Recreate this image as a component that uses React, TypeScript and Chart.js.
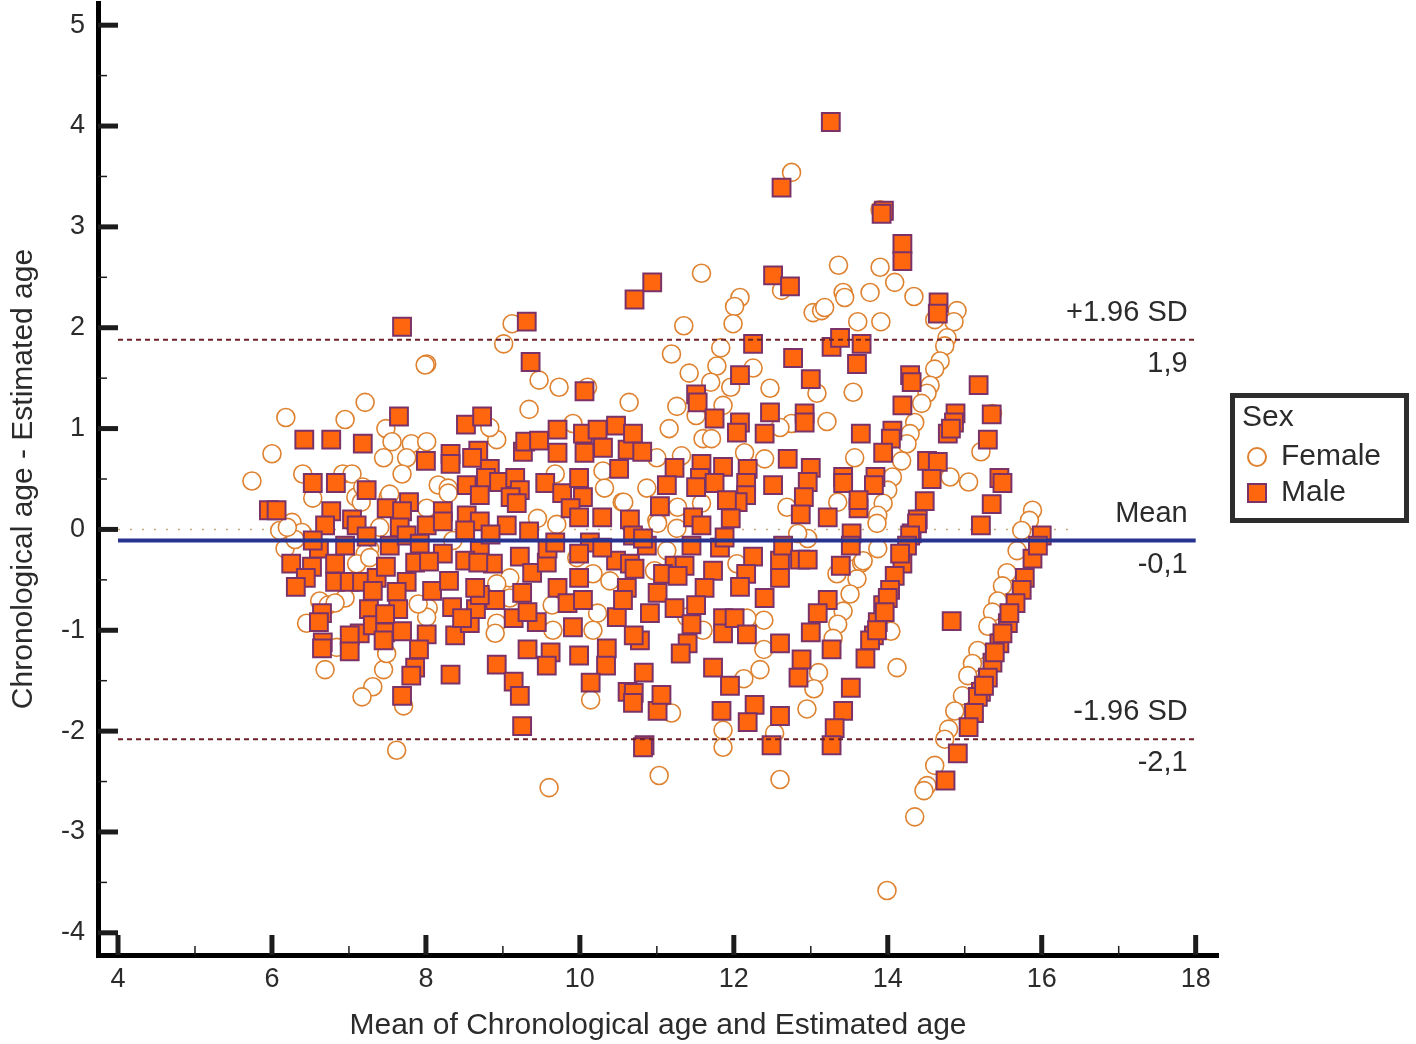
import React, { useEffect, useRef } from "react";
import { Chart, registerables } from "chart.js";

Chart.register(...registerables);

const femalePoints: number[][] = [
[12.75,3.54],[13.90,3.17],[13.36,2.62],[11.58,2.54],[13.90,2.60],[14.09,2.45],[13.42,2.35],[13.44,2.30],[13.77,2.35],[14.34,2.31],
[12.08,2.30],[12.01,2.21],[12.62,2.37],[13.03,2.15],[13.14,2.17],[13.18,2.20],[13.61,2.06],[13.91,2.06],[11.35,2.02],[11.99,2.04],
[9.12,2.04],[9.01,1.84],[8.01,1.64],[7.99,1.63],[14.90,2.17],[14.86,2.06],[14.61,2.08],[11.19,1.74],[11.83,1.80],[11.78,1.62],
[12.25,1.60],[11.42,1.55],[11.70,1.46],[11.96,1.41],[12.47,1.40],[13.08,1.35],[13.55,1.36],[9.47,1.48],[9.73,1.41],[10.10,1.41],
[9.34,1.19],[10.64,1.26],[7.21,1.26],[6.95,1.09],[6.18,1.11],[11.26,1.22],[11.51,1.13],[11.86,1.23],[11.16,1.00],[12.75,1.05],
[13.21,1.07],[15.36,1.15],[7.48,1.00],[7.56,0.87],[7.81,0.85],[8.01,0.87],[7.45,0.71],[7.75,0.71],[7.69,0.55],[6.00,0.75],
[5.74,0.48],[6.40,0.55],[6.92,0.55],[7.04,0.55],[8.92,0.89],[8.83,1.01],[6.53,0.31],[7.09,0.32],[7.18,0.42],[7.51,0.32],
[8.16,0.44],[8.29,0.41],[8.01,0.21],[6.26,0.07],[7.40,0.02],[6.39,-0.03],[6.10,-0.01],[6.17,-0.19],[7.27,-0.19],[7.21,-0.24],
[9.45,0.11],[9.68,0.55],[9.91,1.05],[10.30,0.58],[10.32,0.41],[10.55,0.27],[9.96,-0.28],[10.17,-0.44],[10.39,-0.51],[9.64,-0.75],
[9.09,-0.48],[8.92,-0.54],[8.35,-0.11],[7.10,-0.34],[6.62,-0.71],[8.03,-0.78],[10.23,-0.83],[10.17,-1.00],[9.65,-1.00],[8.92,-0.93],
[8.90,-1.03],[8.01,-0.87],[6.69,-1.39],[7.45,-1.39],[7.31,-1.56],[7.17,-1.66],[7.71,-1.75],[10.14,-1.69],[7.62,-2.19],[9.60,-2.56],
[6.45,-0.93],[6.73,-0.75],[7.49,-1.23],[6.84,-1.17],[9.09,-0.68],[11.60,0.90],[11.71,0.90],[12.14,0.76],[12.40,0.70],[12.60,1.01],
[13.57,0.71],[14.81,0.52],[15.05,0.47],[15.21,0.77],[11.00,0.71],[11.32,0.73],[10.87,0.41],[10.57,0.27],[11.27,0.22],[11.58,0.26],
[11.00,0.09],[11.26,0.01],[12.69,0.22],[13.35,0.27],[12.96,-0.09],[12.83,-0.04],[11.13,-0.21],[11.01,0.06],[10.97,-0.41],[12.04,-0.34],
[11.60,-1.00],[11.39,-0.87],[13.34,-0.44],[13.57,-0.39],[13.66,-0.33],
[14.77,1.90],[14.74,1.82],[14.68,1.67],[14.61,1.59],[14.55,1.43],[14.51,1.35],[14.44,1.25],[14.35,1.06],[14.29,0.95],[14.25,0.85],
[14.18,0.68],[14.06,0.52],[14.00,0.39],[13.94,0.26],[13.87,0.14],[13.86,0.06],[13.87,-0.19],[13.68,-0.31],[13.60,-0.49],[13.51,-0.64],
[13.42,-0.81],[13.35,-0.94],[13.29,-1.08],[12.39,-0.90],[12.17,-0.88],[12.39,-1.19],[12.34,-1.39],[12.13,-1.48],[11.86,-1.99],[11.86,-2.16],
[11.03,-2.44],[11.19,-1.82],[12.60,-2.48],[12.53,-2.02],[12.95,-1.78],[13.10,-1.42],[13.04,-1.58],[14.12,-1.37],[14.04,-1.01],
[15.88,0.19],[15.84,0.09],[15.74,-0.01],[15.68,-0.21],[15.55,-0.43],[15.49,-0.56],[15.43,-0.71],[15.36,-0.82],[15.30,-0.96],[15.17,-1.20],
[15.10,-1.33],[15.04,-1.45],[14.97,-1.65],[14.87,-1.80],[14.79,-1.98],[14.74,-2.08],[14.61,-2.34],[14.51,-2.54],[14.47,-2.59],[14.35,-2.85],[13.99,-3.58],
[7.90,-0.74],[6.95,-0.68],[6.82,-0.73],[7.27,-0.28],[7.16,0.27],[7.53,0.35],[8.29,0.36],[6.30,-0.10],[6.20,0.02],[9.70,0.05],
];

const malePoints: number[][] = [
[13.26,4.04],[12.62,3.39],[13.95,3.16],[13.92,3.13],[14.19,2.83],[14.19,2.66],[12.51,2.52],[12.73,2.41],[10.71,2.28],[10.94,2.45],
[14.66,2.25],[14.65,2.14],[9.31,2.06],[7.69,2.01],[9.36,1.66],[12.25,1.84],[12.77,1.70],[13.27,1.81],[13.38,1.90],[13.66,1.84],
[13.60,1.64],[13.00,1.49],[12.08,1.53],[10.06,1.37],[14.29,1.53],[14.31,1.46],[15.18,1.43],[14.19,1.23],[11.51,1.34],[11.53,1.26],
[12.47,1.16],[12.92,1.15],[12.92,1.06],[11.75,1.10],[7.65,1.12],[14.88,1.15],[14.86,1.06],[14.78,0.95],[14.82,1.00],[15.35,1.14],
[6.42,0.89],[6.77,0.89],[7.18,0.85],[8.00,0.68],[8.32,0.75],[8.32,0.65],[8.68,0.78],[8.60,0.71],[8.83,0.60],[8.52,1.04],
[8.73,1.12],[9.26,0.77],[9.29,0.87],[9.47,0.88],[9.71,0.99],[9.71,0.76],[10.04,0.95],[10.06,0.76],[10.23,0.99],[10.30,0.81],
[10.47,1.03],[10.62,0.79],[10.69,0.95],[10.51,0.60],[10.81,0.77],[6.53,0.46],[6.83,0.46],[7.23,0.39],[8.53,0.44],[8.78,0.51],
[8.95,0.47],[9.16,0.51],[9.22,0.39],[9.10,0.32],[9.18,0.26],[8.70,0.34],[9.55,0.46],[9.77,0.36],[9.99,0.51],[10.04,0.32],
[9.88,0.21],[9.99,0.12],[10.29,0.12],[5.96,0.19],[6.06,0.19],[6.77,0.18],[6.69,0.04],[7.04,0.10],[7.10,0.04],[7.49,0.21],
[7.78,0.27],[7.69,0.18],[7.66,0.02],[8.01,0.04],[8.22,0.18],[8.22,0.08],[8.53,0.14],[8.70,0.08],[8.51,-0.01],[9.05,0.04],
[9.34,-0.02],[10.13,-0.13],[6.25,-0.34],[6.52,-0.37],[6.44,-0.48],[6.31,-0.57],[6.61,-0.19],[6.82,-0.34],[6.82,-0.52],[7.01,-0.52],
[7.17,-0.52],[7.36,-0.48],[7.48,-0.37],[7.53,-0.16],[7.31,-0.61],[7.86,-0.33],[8.22,-0.24],[8.04,-0.32],[7.75,-0.52],[8.08,-0.61],
[8.30,-0.51],[8.70,-0.21],[8.51,-0.31],[8.87,-0.34],[8.68,-0.33],[9.22,-0.27],[9.38,-0.43],[9.57,-0.33],[9.58,-0.19],[9.99,-0.24],
[9.99,-0.48],[10.47,-0.31],[10.29,-0.18],[7.26,-0.79],[7.62,-0.62],[7.64,-0.79],[6.65,-0.83],[6.61,-0.92],[6.66,-1.12],[6.65,-1.18],
[7.14,-1.03],[7.01,-1.05],[7.01,-1.21],[7.31,-0.95],[7.47,-1.02],[7.45,-1.10],[7.69,-1.01],[8.01,-1.04],[7.91,-1.19],[7.86,-1.37],
[7.81,-1.45],[7.69,-1.65],[8.32,-1.44],[8.92,-1.34],[9.14,-1.51],[9.22,-1.65],[9.25,-1.95],[8.38,-1.05],[8.34,-0.77],[8.57,-0.93],
[8.65,-0.79],[8.90,-0.70],[8.70,-0.65],[8.64,-0.58],[9.14,-0.88],[9.25,-0.63],[9.44,-0.92],[9.71,-0.58],[9.84,-0.73],[10.04,-0.70],
[9.91,-0.97],[9.32,-1.19],[9.62,-1.22],[9.57,-1.35],[9.99,-1.25],[10.35,-1.18],[10.34,-1.35],[10.14,-1.52],[10.48,-0.87],[10.62,-1.61],
[10.65,-0.34],[10.71,-0.39],[10.61,-0.58],[10.87,-0.16],[11.23,-0.36],[11.36,-0.36],[11.08,-0.44],[11.27,-0.46],[11.45,-0.16],[11.73,-0.41],
[11.62,-0.58],[11.51,-0.75],[11.82,-0.18],[12.25,-0.27],[12.16,-0.44],[12.08,-0.57],[12.60,-0.31],[12.60,-0.48],[12.64,-0.16],[12.86,-0.30],
[12.96,-0.30],[13.53,-0.04],[13.52,-0.16],[13.39,-0.36],[12.40,-0.68],[13.22,-0.70],[13.09,-0.83],[13.00,-1.02],[13.27,-1.19],[11.01,-0.63],
[10.91,-0.83],[11.23,-0.78],[11.45,-0.94],[11.40,-1.13],[11.31,-1.23],[11.86,-0.88],[11.86,-1.03],[12.01,-0.88],[12.17,-1.04],[12.60,-1.13],
[11.73,-1.37],[11.95,-1.55],[12.27,-1.74],[12.18,-1.91],[11.84,-1.80],[12.60,-1.85],[12.88,-1.29],[12.84,-1.47],[13.52,-1.57],[13.42,-1.80],
[13.31,-1.97],[13.27,-2.14],[12.49,-2.14],[10.84,-2.14],[10.82,-2.16],[11.01,-1.80],[11.06,-1.64],[10.70,-1.62],[10.69,-1.72],[10.83,-1.42],
[10.78,-1.10],[10.70,-1.05],[11.23,0.61],[11.13,0.44],[11.04,0.23],[10.65,0.10],[11.58,0.65],[11.56,0.51],[11.51,0.42],[11.86,0.62],
[11.75,0.46],[12.18,0.60],[12.16,0.46],[12.16,0.34],[12.51,0.44],[12.05,0.27],[11.96,0.11],[11.47,0.12],[11.58,0.04],[11.88,-0.08],
[12.70,0.70],[13.00,0.61],[12.96,0.47],[12.91,0.32],[12.87,0.15],[13.42,0.52],[13.42,0.46],[13.84,0.52],[13.82,0.44],[13.62,0.21],
[13.62,0.29],[13.22,0.12],[12.40,0.95],[12.08,1.06],[12.04,0.96],[13.65,0.95],[14.06,0.98],[14.04,0.90],[13.94,0.76],[15.30,0.89],
[14.51,0.68],[14.65,0.67],[14.57,0.50],[15.45,0.51],[15.49,0.46],[15.35,0.25],[15.21,0.04],[14.48,0.28],[14.39,0.10],[14.31,-0.04],
[14.38,0.06],[14.29,-0.06],[14.25,-0.16],[14.19,-0.34],[14.09,-0.46],[14.03,-0.60],[13.94,-0.75],[13.87,-0.92],[13.82,-1.05],[13.77,-1.10],
[13.71,-1.28],[14.16,-0.24],[14.00,-0.68],[13.86,-1.00],[13.96,-0.82],
[16.00,-0.06],[15.88,-0.29],[15.78,-0.48],[15.74,-0.60],[15.66,-0.73],[15.56,-0.93],[15.58,-0.83],[15.45,-1.13],[15.36,-1.32],[15.30,-1.47],
[15.21,-1.61],[15.17,-1.66],[15.12,-1.82],[15.05,-1.96],[14.91,-2.22],[14.75,-2.49],[14.83,-0.91],[15.95,-0.16],[15.49,-1.03],[15.39,-1.22],[15.25,-1.55],
[7.75,-0.06],[6.53,-0.11],[6.95,-0.16],[7.92,-0.14],[7.47,-0.84],[8.47,-0.88],[9.68,-0.13],[10.69,-0.06],[10.56,-0.70],[9.32,-0.82],[11.91,0.29],[10.82,-0.09],[8.84,-0.05],[7.23,-0.07],
];

const meanValue = -0.11;
const upperLimit = 1.88;
const lowerLimit = -2.08;
const lineStart = 4;
const lineEnd = 18;
const zeroLineEnd = 16.35;
const refLabels: { text: string; value: number; above: boolean }[] = [
  { text: "+1.96 SD", value: upperLimit, above: true },
  { text: "1,9", value: upperLimit, above: false },
  { text: "Mean", value: meanValue, above: true },
  { text: "-0,1", value: meanValue, above: false },
  { text: "-1.96 SD", value: lowerLimit, above: true },
  { text: "-2,1", value: lowerLimit, above: false },
];

const FONT = "'Liberation Sans', Arial, sans-serif";
const TEXT = "#2b2b2b";
const FEMALE = "#DE8230";
const MALE_FILL = "#FF660D";
const MALE_EDGE = "#7A3268";

function circleIcon(): HTMLCanvasElement {
  const c = document.createElement("canvas");
  c.width = 24;
  c.height = 24;
  const g = c.getContext("2d")!;
  g.strokeStyle = FEMALE;
  g.lineWidth = 2;
  g.beginPath();
  g.arc(12, 12, 9, 0, Math.PI * 2);
  g.stroke();
  return c;
}

const axisPlugin = {
  id: "axisMarks",
  beforeDraw(chart: any) {
    const lg = chart.legend;
    if (lg) {
      lg.left = 1242;
      lg.right = 1409;
      lg.top = 393;
      lg.bottom = 580;
      lg.width = 167;
      lg.height = 187;
    }
  },
  afterDatasetsDraw(chart: any) {
    const { ctx, scales } = chart;
    const x = scales.x;
    const y = scales.y;
    ctx.save();
    ctx.strokeStyle = "#1c1c1c";
    ctx.lineCap = "butt";
    for (const t of x.ticks) {
      const major = Math.abs(t.value % 2) < 1e-6;
      const px = x.getPixelForValue(t.value);
      ctx.lineWidth = major ? 5 : 1.5;
      ctx.beginPath();
      ctx.moveTo(px, x.top);
      ctx.lineTo(px, x.top - (major ? 20 : 9));
      ctx.stroke();
    }
    for (const t of y.ticks) {
      const major = Math.abs(t.value % 1) < 1e-6;
      const py = y.getPixelForValue(t.value);
      ctx.lineWidth = major ? 5 : 1.5;
      ctx.beginPath();
      ctx.moveTo(y.right, py);
      ctx.lineTo(y.right + (major ? 20 : 9), py);
      ctx.stroke();
    }
    ctx.fillStyle = TEXT;
    ctx.font = `29px ${FONT}`;
    ctx.textAlign = "right";
    ctx.textBaseline = "middle";
    const tx = x.getPixelForValue(lineEnd) - 8;
    for (const r of refLabels) {
      const py = y.getPixelForValue(r.value);
      ctx.fillText(r.text, tx, py + (r.above ? -27 : 24));
    }
    ctx.restore();
  },
  afterDraw(chart: any) {
    const { ctx } = chart;
    ctx.save();
    ctx.strokeStyle = "#2d2d2d";
    ctx.lineWidth = 5;
    ctx.strokeRect(1232.5, 395.5, 174, 125);
    ctx.restore();
  },
};

function clearScalePadding(s: any) {
  s.paddingTop = 0;
  s.paddingBottom = 0;
  s.paddingLeft = 0;
  s.paddingRight = 0;
}

export default function App() {
  const ref = useRef<HTMLCanvasElement>(null);
  useEffect(() => {
    const icon = circleIcon();
    const chart = new Chart(ref.current!, {
      type: "scatter",
      data: {
        datasets: [
          {
            label: "Female",
            data: femalePoints.map(([x, y]) => ({ x, y })),
            pointStyle: "circle",
            pointRadius: 9,
            pointBorderWidth: 1.6,
            pointBorderColor: FEMALE,
            pointBackgroundColor: "#ffffff",
            order: 3,
          },
          {
            label: "Male",
            data: malePoints.map(([x, y]) => ({ x, y })),
            pointStyle: "rect",
            pointRadius: 12.6,
            pointBorderWidth: 2,
            pointBorderColor: MALE_EDGE,
            pointBackgroundColor: MALE_FILL,
            order: 2,
          },
          {
            label: "Mean",
            data: [{ x: lineStart, y: meanValue }, { x: lineEnd, y: meanValue }],
            showLine: true,
            pointRadius: 0,
            borderColor: "#27338F",
            borderWidth: 4,
            order: 0,
          },
          {
            label: "+1.96 SD",
            data: [{ x: lineStart, y: upperLimit }, { x: lineEnd, y: upperLimit }],
            showLine: true,
            pointRadius: 0,
            borderColor: "#6E2028",
            borderWidth: 2,
            borderDash: [5, 4],
            order: 1,
          },
          {
            label: "-1.96 SD",
            data: [{ x: lineStart, y: lowerLimit }, { x: lineEnd, y: lowerLimit }],
            showLine: true,
            pointRadius: 0,
            borderColor: "#6E2028",
            borderWidth: 2,
            borderDash: [5, 4],
            order: 1,
          },
          {
            label: "Zero",
            data: [{ x: lineStart, y: 0 }, { x: zeroLineEnd, y: 0 }],
            showLine: true,
            pointRadius: 0,
            borderColor: "#C9A67E",
            borderWidth: 1.5,
            borderDash: [2, 10],
            order: 4,
          },
        ],
      },
      options: {
        responsive: false,
        animation: false,
        layout: { autoPadding: false, padding: { top: 3, right: 198, left: 0, bottom: 0 } },
        plugins: {
          tooltip: { enabled: false },
          legend: {
            position: "chartArea" as any,
            align: "start",
            title: {
              display: true,
              text: "Sex",
              color: TEXT,
              font: { family: FONT, size: 30, lineHeight: 1 },
              padding: { top: 10, bottom: 3, left: 0, right: 0 },
              position: "start",
            } as any,
            labels: {
              usePointStyle: true,
              boxHeight: 18,
              boxWidth: 18,
              padding: 6,
              color: TEXT,
              font: { family: FONT, size: 30 },
              filter: (item: any) => item.text === "Female" || item.text === "Male",
              sort: (a: any, b: any) => a.datasetIndex - b.datasetIndex,
              generateLabels: (c: any) =>
                Chart.defaults.plugins.legend.labels.generateLabels(c).map((it: any) =>
                  it.text === "Female" ? { ...it, pointStyle: icon } : it
                ),
            },
          },
        },
        scales: {
          x: {
            type: "linear",
            min: 3.74,
            max: 18.29,
            afterFit: (s: any) => {
              s.height = 89;
              clearScalePadding(s);
            },
            grid: { display: false },
            border: { display: true, color: "#000", width: 5 },
            ticks: {
              stepSize: 1,
              includeBounds: false,
              autoSkip: false,
              maxRotation: 0,
              padding: 0,
              color: TEXT,
              font: { family: FONT, size: 27 },
              callback: (v: any) => (Math.abs(Number(v) % 2) < 1e-6 ? String(v) : ""),
            },
            title: {
              display: true,
              text: "Mean of Chronological age and Estimated age",
              color: TEXT,
              font: { family: FONT, size: 30 },
              padding: { top: 0, bottom: 0 },
            },
          },
          y: {
            type: "linear",
            min: -4.22,
            max: 5.22,
            afterFit: (s: any) => {
              s.width = 98;
              clearScalePadding(s);
            },
            grid: { display: false },
            border: { display: true, color: "#000", width: 5 },
            ticks: {
              stepSize: 0.5,
              includeBounds: false,
              autoSkip: false,
              padding: 5,
              color: TEXT,
              font: { family: FONT, size: 27 },
              callback: (v: any) => (Math.abs(Number(v) % 1) < 1e-6 ? String(v) : ""),
            },
            title: {
              display: true,
              text: "Chronological age - Estimated age",
              color: TEXT,
              font: { family: FONT, size: 30 },
              padding: { top: 6, bottom: 0 },
            },
          },
        },
      } as any,
      plugins: [axisPlugin],
    });
    return () => chart.destroy();
  }, []);
  return (
    <div style={{ position: "absolute", left: 0, top: 0, width: 1416, height: 1044, background: "#fff" }}>
      <canvas ref={ref} width={1416} height={1044} style={{ display: "block" }} />
    </div>
  );
}
